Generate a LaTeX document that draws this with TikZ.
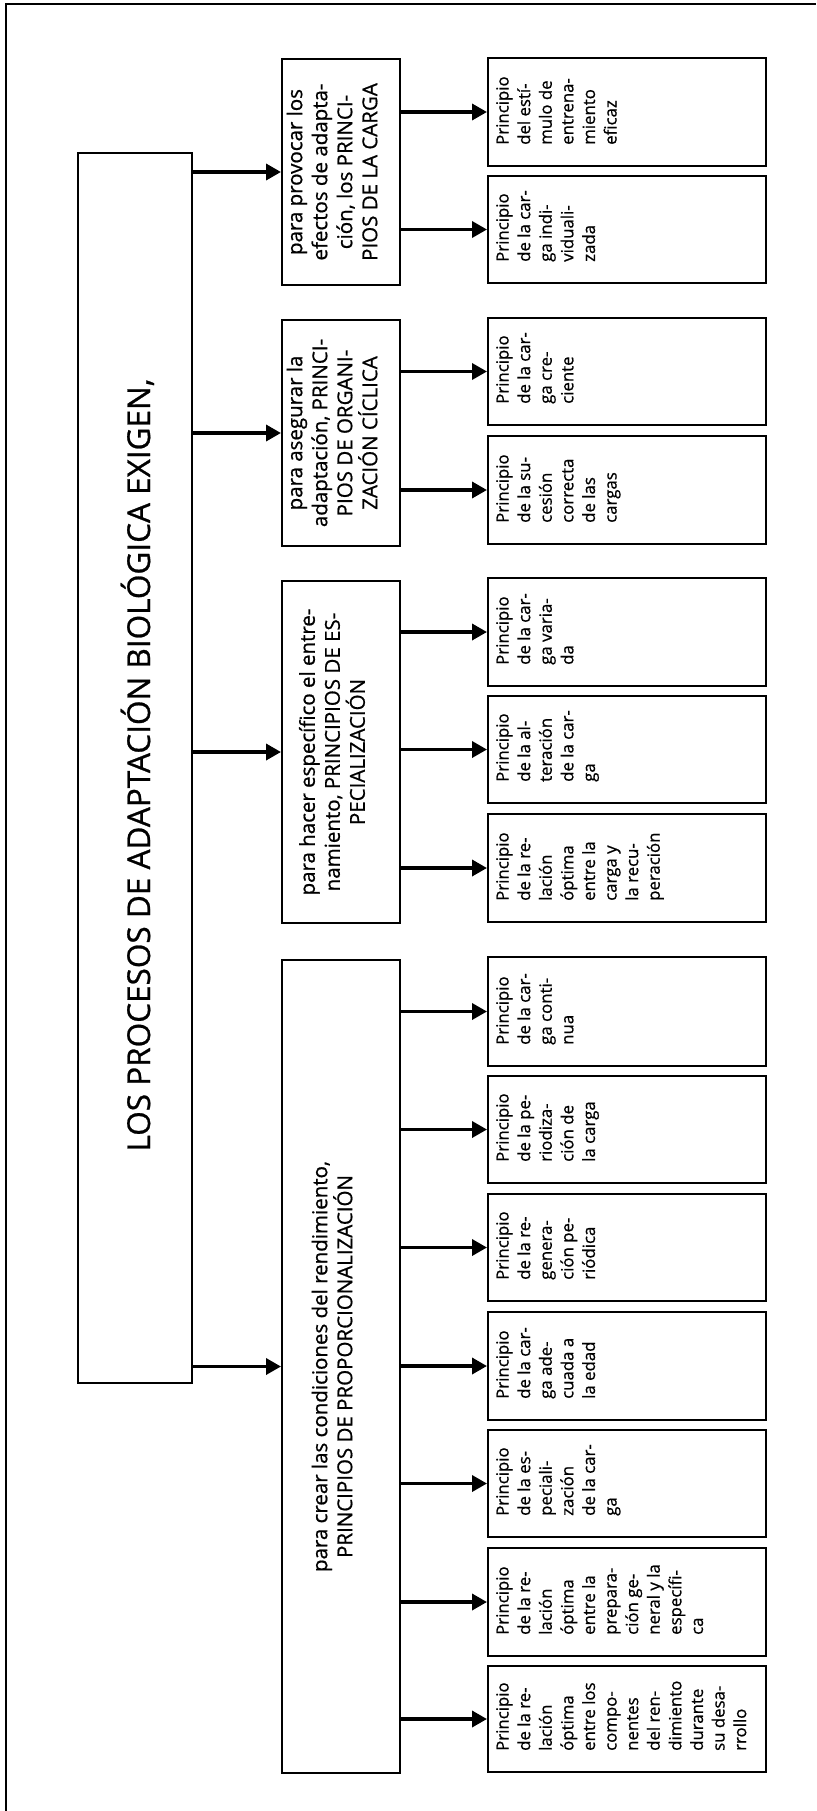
\documentclass[tikz,border=0pt]{standalone}
\usepackage{fontspec}
\setmainfont{Open Sans}[FakeBold=0.8]
\usetikzlibrary{arrows.meta}

% box with rotated, left-aligned text starting at its lower left corner
\newcommand\leafnode[4]{%
  \pgfmathsetmacro\lcy{(#2+#3)/2}%
  \pgfmathsetmacro\lh{#3-#2}%
  \node[leafbox, minimum height=\lh pt] (#1) at (627,\lcy) {};
  \node[leaftext] (#1t) at (496,#3-21) {#4};
}
% box with rotated, centred text
\newcommand\midnode[4]{%
  \pgfmathsetmacro\mcy{(#2+#3)/2}%
  \pgfmathsetmacro\mh{#3-#2}%
  \node[midbox, minimum height=\mh pt] (#1) at (341,\mcy) {};
  \node[midtext] (#1t) at (332,\mcy) {#4};
}

\begin{document}
\begin{tikzpicture}[x=1pt,y=-1pt,
  frameline/.style={line width=2pt},
  mainbox/.style={draw, line width=1.6pt, inner sep=0pt, minimum width=114pt},
  midbox/.style={draw, line width=2pt, inner sep=0pt, minimum width=118pt},
  leafbox/.style={draw, line width=2pt, inner sep=0pt, minimum width=278pt},
  titletext/.style={rotate=90, inner sep=0pt, anchor=base, font=\fontsize{31.5}{36}\selectfont},
  midtext/.style={rotate=90, inner sep=0pt, align=center, font=\fontsize{20.5}{25}\selectfont},
  leaftext/.style={rotate=90, inner sep=0pt, align=left, anchor=north west, font=\fontsize{16.8}{21.6}\selectfont},
  arr/.style={line width=3.5pt, -{Triangle[length=15pt,width=16pt]}}
]
\useasboundingbox (0,0) rectangle (816,1811);

% frame
\draw[frameline] (6,1811) -- (6,4.5) -- (816,4.5);

% title box
\node[mainbox, minimum height=1230pt] (main) at (135,768) {};
\node[titletext] (title) at (150,765) {LOS PROCESOS DE ADAPTACIÓN BIOLÓGICA EXIGEN,};

% groups of principles
\midnode{m1}{59}{285}{para provocar los\\efectos de adapta-\\ción, los PRINCI-\\PIOS DE LA CARGA}
\midnode{m2}{320}{546}{para asegurar la\\adaptación, PRINCI-\\PIOS DE ORGANI-\\ZACIÓN CÍCLICA}
\midnode{m3}{581}{923}{para hacer específico el entre-\\namiento, PRINCIPIOS DE ES-\\PECIALIZACIÓN}
\midnode{m4}{960}{1773}{para crear las condiciones del rendimiento,\\PRINCIPIOS DE PROPORCIONALIZACIÓN}

% single principles
\leafnode{l1}{58}{166}{Principio\\del estí-\\mulo de\\entrena-\\miento\\eficaz}
\leafnode{l2}{176}{283}{Principio\\de la car-\\ga indi-\\viduali-\\zada}
\leafnode{l3}{318}{425}{Principio\\de la car-\\ga cre-\\ciente}
\leafnode{l4}{436}{544}{Principio\\de la su-\\cesión\\correcta\\de las\\cargas}
\leafnode{l5}{578}{686}{Principio\\de la car-\\ga varia-\\da}
\leafnode{l6}{696}{803}{Principio\\de la al-\\teración\\de la car-\\ga}
\leafnode{l7}{814}{922}{Principio\\de la re-\\lación\\óptima\\entre la\\carga y\\la recu-\\peración}
\leafnode{l8}{957}{1066}{Principio\\de la car-\\ga conti-\\nua}
\leafnode{l9}{1076}{1183}{Principio\\de la pe-\\riodiza-\\ción de\\la carga}
\leafnode{l10}{1194}{1301}{Principio\\de la re-\\genera-\\ción pe-\\riódica}
\leafnode{l11}{1312}{1420}{Principio\\de la car-\\ga ade-\\cuada a\\la edad}
\leafnode{l12}{1430}{1537}{Principio\\de la es-\\peciali-\\zación\\de la car-\\ga}
\leafnode{l13}{1548}{1656}{Principio\\de la re-\\lación\\óptima\\entre la\\prepara-\\ción ge-\\neral y la\\específi-\\ca}
\leafnode{l14}{1666}{1772}{Principio\\de la re-\\lación\\óptima\\entre los\\compo-\\nentes\\del ren-\\dimiento\\durante\\su desa-\\rrollo}

% connectors
\foreach \m in {m1,m2,m3,m4}
  \draw[arr] (main.east |- \m.west) -- (\m.west);
\foreach \m/\l in {m1/l1,m1/l2,m2/l3,m2/l4,m3/l5,m3/l6,m3/l7,
                   m4/l8,m4/l9,m4/l10,m4/l11,m4/l12,m4/l13,m4/l14}
  \draw[arr] (\m.east |- \l.west) -- (\l.west);
\end{tikzpicture}
\end{document}
